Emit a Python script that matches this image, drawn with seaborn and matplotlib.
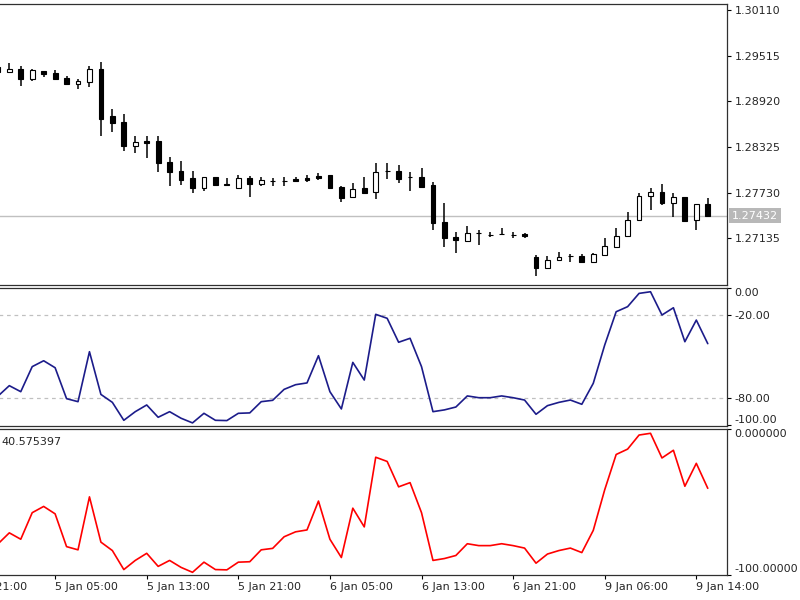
# Gráfico tipo MT4: velas H1 + Williams %R en dos subventanas
import numpy as np
import pandas as pd
import seaborn as sns
import matplotlib.pyplot as plt

# Velas (barra 0..62)
apertura = [1.29371, 1.29298, 1.29337, 1.29207, 1.29315, 1.29285, 1.29228, 1.29142, 1.29176, 1.29337,
            1.28729, 1.28647, 1.28335, 1.28403, 1.28403, 1.28125, 1.28016, 1.27921, 1.27787, 1.27938,
            1.27849, 1.27794, 1.27917, 1.27843, 1.27884, 1.27879, 1.27912, 1.27925, 1.27951, 1.27960,
            1.27807, 1.27669, 1.27787, 1.27742, 1.28008, 1.28012, 1.27940, 1.27938, 1.27830, 1.27344,
            1.27156, 1.27104, 1.27200, 1.27178, 1.27188, 1.27178, 1.27187, 1.26895, 1.26752, 1.26852,
            1.26904, 1.26908, 1.26830, 1.26917, 1.27026, 1.27165, 1.27374, 1.27690, 1.27742, 1.27591,
            1.27669, 1.27374, 1.27578]
maximo = [1.29393, 1.29415, 1.29376, 1.29339, 1.29315, 1.29328, 1.29250, 1.29208, 1.29376, 1.29436,
          1.28817, 1.28759, 1.28464, 1.28468, 1.28462, 1.28198, 1.28142, 1.28012, 1.27938, 1.27938,
          1.27917, 1.27960, 1.27951, 1.27938, 1.27925, 1.27938, 1.27938, 1.27960, 1.27990, 1.27960,
          1.27821, 1.27852, 1.27938, 1.28112, 1.28112, 1.28090, 1.28003, 1.28055, 1.27873, 1.27591,
          1.27213, 1.27299, 1.27243, 1.27221, 1.27273, 1.27221, 1.27200, 1.26917, 1.26904, 1.26953,
          1.26930, 1.26924, 1.26940, 1.27135, 1.27265, 1.27482, 1.27729, 1.27787, 1.27843, 1.27721,
          1.27669, 1.27578, 1.27656]
minimo = [1.29276, 1.29298, 1.29122, 1.29191, 1.29234, 1.29215, 1.29143, 1.29081, 1.29100, 1.28464,
          1.28524, 1.28275, 1.28243, 1.28185, 1.27995, 1.27817, 1.27830, 1.27729, 1.27755, 1.27817,
          1.27821, 1.27774, 1.27677, 1.27821, 1.27821, 1.27821, 1.27873, 1.27873, 1.27895, 1.27778,
          1.27612, 1.27669, 1.27708, 1.27643, 1.27908, 1.27852, 1.27755, 1.27807, 1.27243, 1.27026,
          1.26940, 1.27104, 1.27048, 1.27148, 1.27182, 1.27143, 1.27143, 1.26644, 1.26735, 1.26839,
          1.26830, 1.26830, 1.26830, 1.26904, 1.27005, 1.27165, 1.27374, 1.27504, 1.27569, 1.27409,
          1.27364, 1.27243, 1.27432]
cierre = [1.29296, 1.29337, 1.29211, 1.29322, 1.29276, 1.29215, 1.29143, 1.29185, 1.29339, 1.28690,
          1.28634, 1.28334, 1.28390, 1.28377, 1.28112, 1.27995, 1.27895, 1.27787, 1.27938, 1.27830,
          1.27830, 1.27917, 1.27839, 1.27895, 1.27879, 1.27884, 1.27886, 1.27895, 1.27925, 1.27794,
          1.27664, 1.27778, 1.27729, 1.28003, 1.28016, 1.27908, 1.27934, 1.27807, 1.27331, 1.27135,
          1.27113, 1.27208, 1.27198, 1.27175, 1.27185, 1.27175, 1.27161, 1.26752, 1.26852, 1.26895,
          1.26907, 1.26830, 1.26927, 1.27035, 1.27169, 1.27374, 1.27690, 1.27742, 1.27591, 1.27677,
          1.27364, 1.27578, 1.27432]

# Williams %R (14)
wpr = [-79.0, -71.3, -75.7, -57.4, -53.1, -58.2, -80.8, -83.0, -46.5, -77.7,
       -83.5, -96.6, -90.3, -85.4, -94.4, -90.3, -95.1, -98.5, -91.5, -96.6,
       -96.8, -91.5, -91.2, -83.0, -82.0, -74.0, -70.6, -69.3, -49.4, -75.7,
       -88.3, -54.3, -67.2, -19.2, -22.1, -39.6, -36.7, -57.4, -90.3, -89.0,
       -86.9, -78.8, -80.1, -80.1, -78.8, -80.1, -81.8, -92.2, -85.9, -83.5,
       -81.8, -84.9, -69.6, -41.6, -17.3, -13.6, -3.9, -2.7, -19.7, -14.4,
       -39.2, -23.4, -40.6]

precio_actual = 1.27432
ticks_precio = [1.30110, 1.29515, 1.28920, 1.28325, 1.27730, 1.27135]
ticks_tiempo = [-3, 5, 13, 21, 29, 37, 45, 53, 61]
etiquetas_tiempo = ['4 Jan 21:00', '5 Jan 05:00', '5 Jan 13:00', '5 Jan 21:00', '6 Jan 05:00',
                    '6 Jan 13:00', '6 Jan 21:00', '9 Jan 06:00', '9 Jan 14:00']

velas = pd.DataFrame({'o': apertura, 'h': maximo, 'l': minimo, 'c': cierre})
velas['barra'] = np.arange(len(velas))
velas['sube'] = velas['c'] >= velas['o']

sns.set_style('white')
plt.rcParams['font.family'] = ['DejaVu Sans']
plt.rcParams['font.size'] = 8

fig = plt.figure(figsize=(8, 6), dpi=100)
izq, ancho = -0.0625, 0.97125
ax1 = fig.add_axes([izq, 0.52417, ancho, 0.46917])
ax2 = fig.add_axes([izq, 0.29083, ancho, 0.23])
ax3 = fig.add_axes([izq, 0.0425, ancho, 0.24333])

color_marco = '#303030'
for ax in (ax1, ax2, ax3):
    ax.set_xlim(-4.18, 63.68)
    ax.spines['left'].set_visible(False)
    for s in ('top', 'bottom', 'right'):
        ax.spines[s].set_color(color_marco)
        ax.spines[s].set_linewidth(0.9)
    ax.yaxis.tick_right()
    ax.tick_params(axis='y', which='major', direction='out', length=3, width=0.8,
                   color='black', pad=2.5, labelsize=8, left=False, right=True)
    ax.tick_params(axis='x', bottom=False, labelbottom=False)

# --- Velas ---
ax1.axhline(precio_actual, color='#c0c0c0', lw=1.0, zorder=1)
ax1.vlines(velas['barra'], velas['l'], velas['h'], color='black', lw=1.1, zorder=2)
cuerpo_inf = velas[['o', 'c']].min(axis=1)
cuerpo_alto = (velas['c'] - velas['o']).abs()
ax1.bar(velas['barra'], cuerpo_alto, bottom=cuerpo_inf, width=0.42,
        color=np.where(velas['sube'], 'white', 'black'), edgecolor='black', linewidth=0.8, zorder=3)
ax1.set_ylim(1.26520, 1.30188)
ax1.set_yticks(ticks_precio)
ax1.set_yticklabels([f'{p:.5f}' for p in ticks_precio])
ax1.text(1.0065, precio_actual, f'{precio_actual:.5f}', transform=ax1.get_yaxis_transform(),
         color='white', va='center', ha='left', fontsize=8,
         bbox=dict(facecolor='#b8b8b8', edgecolor='none', pad=1.8))

# --- Williams %R (azul) ---
sns.lineplot(x=velas['barra'], y=wpr, ax=ax2, color='#1c1c8a', lw=1.2)
for nivel in (-20, -80):
    ax2.axhline(nivel, color='#c0c0c0', lw=0.9, ls=(0, (3, 3)), zorder=0)
ax2.set_ylim(-100.4, 0.4)
ax2.set_yticks([0, -20, -80, -100])
ax2.set_yticklabels(['0.00', '-20.00', '-80.00', '-100.00'])
lbls = ax2.get_yticklabels()
lbls[0].set_va('top')
lbls[3].set_va('bottom')

# --- Williams %R (rojo) ---
sns.lineplot(x=velas['barra'], y=wpr, ax=ax3, color='#ff0000', lw=1.2)
ax3.set_ylim(-100, 0.6)
ax3.set_yticks([0, -100])
ax3.set_yticklabels(['0.000000', '-100.00000'])
lbls = ax3.get_yticklabels()
lbls[0].set_va('top')
lbls[1].set_va('bottom')
ax3.set_xticks(ticks_tiempo)
ax3.set_xticklabels(etiquetas_tiempo)
ax3.tick_params(axis='x', bottom=True, labelbottom=True, direction='out', length=3,
                width=0.8, color='black', pad=2.5, labelsize=8)
for t in ax3.get_xticklabels():
    t.set_ha('left')
fig.text(0.002, 1 - 441.7 / 600, '40.575397', va='center', ha='left', fontsize=8)

for ax in (ax1, ax2, ax3):
    ax.set_xlabel('')
    ax.set_ylabel('')

fig.savefig('out.png', dpi=100)
